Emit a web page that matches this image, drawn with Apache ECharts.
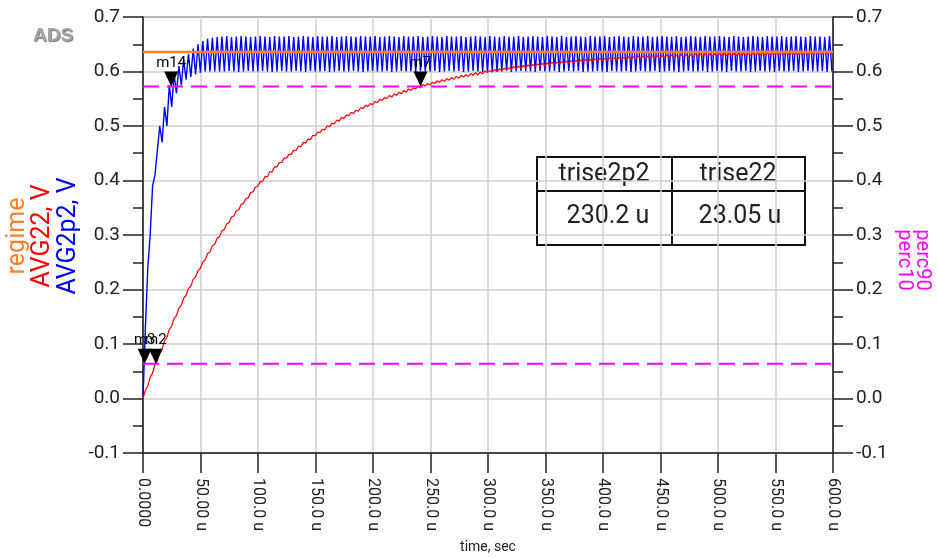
<!DOCTYPE html>
<html><head><meta charset="utf-8">
<script src="https://cdn.jsdelivr.net/npm/echarts@6/dist/echarts.min.js"></script>
<style>html,body{margin:0;padding:0;background:#fff}#c{width:938px;height:558px}</style>
</head><body><div id="c"></div>
<script>
// ---- data (time in microseconds) ----
const sampleStepUs = 2.08;
const avg2p2 = [
0,0.13,0.24,0.30,0.39,0.41,0.455,0.50,0.47,0.535,0.50,0.575,0.535,0.595,0.56,0.61,
0.575,0.622,0.585,0.632,0.59,0.642,0.595,0.65,0.598,0.656,0.600,0.66,0.600,0.662,0.600,0.663,0.600,
0.664,0.600,0.665,0.601,0.663,0.600,0.664,0.599,0.665,0.600,0.664,0.601,0.663,0.600,0.664,0.600,
0.665,0.601,0.664,0.600,0.663,0.599,0.665,0.600,0.664,0.601,0.664,0.600,0.665,0.600,0.663,0.601,
0.664,0.600,0.665,0.599,0.664,0.601,0.663,0.600,0.665,0.600,0.664,0.601,0.664,0.599,0.665,0.600,
0.663,0.601,0.664,0.600,0.665,0.600,0.664,0.601,0.663,0.600,0.665,0.599,0.664,0.600,0.664,0.601,
0.665,0.600,0.663,0.600,0.664,0.601,0.665,0.599,0.664,0.600,0.663,0.601,0.665,0.600,0.664,0.600,
0.664,0.599,0.665,0.601,0.663,0.600,0.664,0.600,0.665,0.601,0.664,0.599,0.663,0.600,0.665,0.601,
0.664,0.600,0.664,0.601,0.665,0.599,0.663,0.600,0.664,0.601,0.665,0.600,0.664,0.599,0.663,0.600,
0.665,0.601,0.664,0.600,0.663,0.600,0.665,0.601,0.664,0.599,0.664,0.600,0.665,0.601,0.663,0.600,
0.664,0.600,0.665,0.599,0.664,0.601,0.663,0.600,0.665,0.600,0.664,0.601,0.663,0.599,0.665,0.600,
0.663,0.601,0.664,0.600,0.665,0.601,0.664,0.599,0.663,0.600,0.665,0.600,0.664,0.601,0.664,0.600,
0.665,0.599,0.663,0.601,0.664,0.600,0.665,0.600,0.664,0.601,0.663,0.599,0.665,0.600,0.664,0.601,
0.664,0.600,0.665,0.600,0.663,0.601,0.664,0.599,0.665,0.600,0.664,0.601,0.663,0.600,0.665,0.599,
0.663,0.600,0.664,0.601,0.665,0.600,0.664,0.600,0.663,0.601,0.665,0.599,0.664,0.600,0.664,0.601,
0.665,0.600,0.664,0.599,0.663,0.601,0.665,0.600,0.664,0.600,0.663,0.601,0.664,0.599,0.665,0.600,
0.664,0.601,0.663,0.600,0.665,0.600,0.664,0.599,0.664,0.601,0.665,0.600,0.663,0.600,0.664,0.601,
0.665,0.599,0.664,0.600,0.663,0.601,0.665,0.600,0.664,0.600,0.664,0.601,0.663,0.599,0.665,0.600
];
const avg22 = [
0,0.015,0.023,0.039,0.047,0.062,0.069,0.084,0.091,0.106,
0.112,0.127,0.133,0.147,0.152,0.166,0.171,0.184,0.189,0.202,
0.206,0.219,0.223,0.235,0.239,0.251,0.254,0.266,0.269,0.280,
0.283,0.294,0.297,0.308,0.310,0.320,0.323,0.333,0.335,0.345,
0.346,0.356,0.358,0.367,0.368,0.378,0.379,0.388,0.389,0.398,
0.398,0.407,0.407,0.416,0.416,0.425,0.425,0.433,0.433,0.441,
0.441,0.448,0.448,0.456,0.455,0.463,0.462,0.470,0.469,0.476,
0.475,0.483,0.482,0.489,0.488,0.494,0.493,0.500,0.499,0.505,
0.504,0.511,0.509,0.516,0.514,0.520,0.519,0.525,0.523,0.529,
0.527,0.534,0.532,0.538,0.536,0.541,0.539,0.545,0.543,0.549,
0.547,0.552,0.550,0.556,0.553,0.559,0.556,0.562,0.559,0.565,
0.562,0.568,0.565,0.570,0.568,0.573,0.570,0.576,0.573,0.578,
0.575,0.580,0.578,0.583,0.580,0.585,0.582,0.587,0.584,0.589,
0.586,0.591,0.588,0.593,0.590,0.594,0.591,0.596,0.593,0.598,
0.594,0.599,0.596,0.601,0.598,0.602,0.599,0.604,0.600,0.605,
0.602,0.606,0.603,0.607,0.604,0.609,0.605,0.610,0.606,0.611,
0.607,0.612,0.608,0.613,0.609,0.614,0.610,0.615,0.611,0.616,
0.612,0.617,0.613,0.617,0.614,0.618,0.615,0.619,0.615,0.620,
0.616,0.620,0.617,0.621,0.618,0.622,0.618,0.622,0.619,0.623,
0.619,0.624,0.620,0.624,0.620,0.625,0.621,0.625,0.621,0.626,
0.622,0.626,0.622,0.627,0.623,0.627,0.623,0.628,0.624,0.628,
0.624,0.628,0.625,0.629,0.625,0.629,0.625,0.629,0.626,0.630,
0.626,0.630,0.626,0.630,0.627,0.631,0.627,0.631,0.627,0.631,
0.627,0.632,0.628,0.632,0.628,0.632,0.628,0.632,0.628,0.632,
0.629,0.633,0.629,0.633,0.629,0.633,0.629,0.633,0.629,0.633,
0.630,0.634,0.630,0.634,0.630,0.634,0.630,0.634,0.630,0.634,
0.630,0.634,0.630,0.635,0.631,0.635,0.631,0.635,0.631,0.635,
0.631,0.635,0.631,0.635,0.631,0.635,0.631,0.635,0.631,0.635,
0.632,0.636,0.632,0.636,0.632,0.636,0.632,0.636,0.632
];
const regimeLevel = [0.636];
const perc90Level = [0.5724];
const perc10Level = [0.0636];
const timeSpan = [0, 600];
const xTicks = [0,50,100,150,200,250,300,350,400,450,500,550,600];
const xTickLabels = ['0.0000','50.00 u','100.0 u','150.0 u','200.0 u','250.0 u','300.0 u','350.0 u','400.0 u','450.0 u','500.0 u','550.0 u','600.0 u'];
const markerNames = ['m14','m7','m3','m2'];
const markerTimes = [24.5, 241.3, 1.45, 11.1];
const markerValues = [0.5724, 0.5724, 0.0636, 0.0636];
const tableHeaders = ['trise2p2','trise22'];
const tableValues = ['230.2 u','23.05 u'];

// ---- styles ----
const markerLabelDx = [-5, 0, -6, -2];
const FONT = 'Roboto';
const toPairs = arr => arr.map((v, i) => [+(i * sampleStepUs).toFixed(2), v]);
const levelLine = lv => [[timeSpan[0], lv[0]], [timeSpan[1], lv[0]]];

const yAxisCommon = {
  type: 'value', min: -0.1, max: 0.7, interval: 0.1, splitNumber: 8,
  axisLine: {show: true, lineStyle: {color: '#222', width: 1.5}},
  axisTick: {show: true, length: 20, lineStyle: {color: '#222', width: 1.5}},
  minorTick: {show: true, splitNumber: 2, length: 10, lineStyle: {color: '#222', width: 1.5}},
  axisLabel: {fontFamily: FONT, fontSize: 19, color: '#222', margin: 23,
    formatter: v => (Math.abs(v) < 1e-9 ? 0 : v).toFixed(1), showMinLabel: true, showMaxLabel: true},
};

const chart = echarts.init(document.getElementById('c'), null, {renderer: 'canvas'});
chart.setOption({
  animation: false,
  backgroundColor: '#fff',
  grid: {left: 143, right: 105, top: 17, bottom: 105, containLabel: false, outerBoundsMode: 'none',
    show: true, borderColor: '#333', borderWidth: 1.5},
  xAxis: {
    type: 'value', min: 0, max: 600, interval: 50,
    axisLine: {show: true, onZero: false, lineStyle: {color: '#222', width: 1.5}},
    axisTick: {show: true, length: 20, lineStyle: {color: '#222', width: 1.5}},
    splitLine: {show: true, lineStyle: {color: '#cfcfcf', width: 1.5}},
    axisLabel: {rotate: -90, fontFamily: FONT, fontSize: 16, color: '#222', margin: 25,
      showMinLabel: true, showMaxLabel: true,
      formatter: v => { const k = xTicks.indexOf(Math.round(v)); return k >= 0 ? xTickLabels[k] : ''; }},
    name: 'time, sec', nameLocation: 'middle', nameGap: 87,
    nameTextStyle: {fontFamily: FONT, fontSize: 14, color: '#222'}
  },
  yAxis: [
    Object.assign({}, yAxisCommon, {position: 'left',
      splitLine: {show: true, lineStyle: {color: '#cfcfcf', width: 1.5}}}),
    Object.assign({}, yAxisCommon, {position: 'right', splitLine: {show: false}})
  ],
  series: [
    {name: 'AVG2p2', type: 'line', data: toPairs(avg2p2), showSymbol: false, symbol: 'none',
      lineStyle: {color: '#0000ff', width: 1.4}, z: 2},
    {name: 'AVG22', type: 'line', data: toPairs(avg22), showSymbol: false, symbol: 'none',
      lineStyle: {color: '#ff0000', width: 1.2}, z: 3},
    {name: 'regime', type: 'line', data: levelLine(regimeLevel), symbol: 'none',
      lineStyle: {color: '#ff7f27', width: 2.5}, z: 4},
    {name: 'perc90', type: 'line', yAxisIndex: 1, data: levelLine(perc90Level), symbol: 'none',
      lineStyle: {color: '#ff00ff', width: 2, type: [16, 8]}, z: 4},
    {name: 'perc10', type: 'line', yAxisIndex: 1, data: levelLine(perc10Level), symbol: 'none',
      lineStyle: {color: '#ff00ff', width: 2, type: [16, 8]}, z: 4},
    {name: 'markers', type: 'scatter', z: 6,
      symbol: 'path://M0,0L16,0L8,15Z', symbolSize: [14, 15], symbolOffset: [0, -7.5],
      itemStyle: {color: '#000', opacity: 1},
      labelLayout: {hideOverlap: false},
      label: {show: true, position: 'top', distance: 1, fontFamily: FONT, fontSize: 15, color: '#000',
        formatter: p => markerNames[p.dataIndex]},
      emphasis: {disabled: true},
      data: markerNames.map((n, i) => ({value: [markerTimes[i], markerValues[i]],
        label: {offset: [markerLabelDx[i], 0]}}))
    }
  ],
  graphic: [
    {type: 'text', left: 33, top: 26, style: {text: 'ADS', font: 'bold 19px "Liberation Sans"', fill: '#a5a5a5',
      textShadowColor: 'rgba(0,0,0,0.55)', textShadowOffsetX: 1, textShadowOffsetY: 1, textShadowBlur: 1}},
    {type: 'text', x: 18, y: 236, rotation: Math.PI / 2,
      style: {text: 'regime', font: '25px Roboto', fill: '#ff7f27', align: 'center', verticalAlign: 'middle'}},
    {type: 'text', x: 43, y: 236, rotation: Math.PI / 2,
      style: {text: 'AVG22, V', font: '25px Roboto', fill: '#ff0000', align: 'center', verticalAlign: 'middle'}},
    {type: 'text', x: 69, y: 236, rotation: Math.PI / 2,
      style: {text: 'AVG2p2, V', font: '25px Roboto', fill: '#0000ff', align: 'center', verticalAlign: 'middle'}},
    {type: 'text', x: 922, y: 260, rotation: -Math.PI / 2,
      style: {text: 'perc90', font: '20px Roboto', fill: '#ff00ff', align: 'center', verticalAlign: 'middle'}},
    {type: 'text', x: 904, y: 260, rotation: -Math.PI / 2,
      style: {text: 'perc10', font: '20px Roboto', fill: '#ff00ff', align: 'center', verticalAlign: 'middle'}},
    {type: 'group', z: 10, children: [
      {type: 'rect', shape: {x: 537, y: 157, width: 268, height: 88}, style: {fill: 'rgba(0,0,0,0)', stroke: '#111', lineWidth: 2}},
      {type: 'line', shape: {x1: 672, y1: 157, x2: 672, y2: 245}, style: {stroke: '#111', lineWidth: 2}},
      {type: 'line', shape: {x1: 537, y1: 191, x2: 805, y2: 191}, style: {stroke: '#111', lineWidth: 2}},
      {type: 'text', x: 604, y: 175, style: {text: tableHeaders[0], font: '25px Roboto', fill: '#222', align: 'center', verticalAlign: 'middle'}},
      {type: 'text', x: 738, y: 175, style: {text: tableHeaders[1], font: '25px Roboto', fill: '#222', align: 'center', verticalAlign: 'middle'}},
      {type: 'text', x: 608, y: 217, style: {text: tableValues[0], font: '25px Roboto', fill: '#222', align: 'center', verticalAlign: 'middle'}},
      {type: 'text', x: 740, y: 217, style: {text: tableValues[1], font: '25px Roboto', fill: '#222', align: 'center', verticalAlign: 'middle'}}
    ]}
  ]
});
</script></body></html>
